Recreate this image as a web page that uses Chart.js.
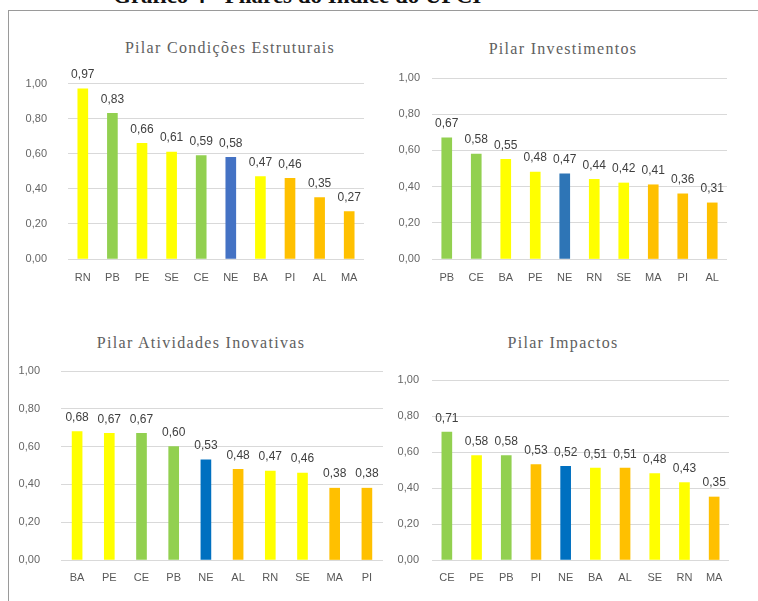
<!DOCTYPE html>
<html lang="pt-BR">
<head>
<meta charset="utf-8">
<title>Pilares do Índice</title>
<script src="https://cdn.jsdelivr.net/npm/chart.js@4.4.1/dist/chart.umd.min.js"></script>
<style>
  html, body { margin: 0; padding: 0; background: #fff; }
  body { width: 758px; height: 601px; position: relative; overflow: hidden; }
  .frame { position: absolute; left: 8px; top: 10px; width: 760px; height: 600px;
           border-left: 1px solid #9a9a9a; border-top: 1px solid #9a9a9a; }
  .heading { position: absolute; left: 113px; top: -17px; white-space: nowrap;
             font: bold 23px "Liberation Serif", serif; color: #111; }
  .ptitle { position: absolute; white-space: nowrap; transform: translate(-50%, -50%);
            font: 16px "Liberation Serif", serif; letter-spacing: 1.3px; color: #606060; }
  .panel { position: absolute; }
</style>
</head>
<body>
<div class="heading">Gráfico 4 - Pilares do Índice do UFCI</div>
<div class="frame"></div>

<div class="ptitle" style="left:230px; top:48px">Pilar Condições Estruturais</div>
<div class="ptitle" style="left:563px; top:49px">Pilar Investimentos</div>
<div class="ptitle" style="left:201px; top:343px">Pilar Atividades Inovativas</div>
<div class="ptitle" style="left:563px; top:343px">Pilar Impactos</div>

<div class="panel" style="left:10px; top:56px; width:370px; height:244px"><canvas id="cEstruturais"></canvas></div>
<div class="panel" style="left:380px; top:56px; width:378px; height:244px"><canvas id="cInvestimentos"></canvas></div>
<div class="panel" style="left:10px; top:340px; width:375px; height:260px"><canvas id="cAtividades"></canvas></div>
<div class="panel" style="left:385px; top:340px; width:373px; height:260px"><canvas id="cImpactos"></canvas></div>

<script>
// Pilar Condições Estruturais
const estadosEstruturais = ['RN', 'PB', 'PE', 'SE', 'CE', 'NE', 'BA', 'PI', 'AL', 'MA'];
const valoresEstruturais = [0.97, 0.83, 0.66, 0.61, 0.59, 0.58, 0.47, 0.46, 0.35, 0.27];

// Pilar Investimentos
const estadosInvestimentos = ['PB', 'CE', 'BA', 'PE', 'NE', 'RN', 'SE', 'MA', 'PI', 'AL'];
const valoresInvestimentos = [0.67, 0.58, 0.55, 0.48, 0.47, 0.44, 0.42, 0.41, 0.36, 0.31];

// Pilar Atividades Inovativas
const estadosAtividades = ['BA', 'PE', 'CE', 'PB', 'NE', 'AL', 'RN', 'SE', 'MA', 'PI'];
const valoresAtividades = [0.68, 0.67, 0.67, 0.60, 0.53, 0.48, 0.47, 0.46, 0.38, 0.38];

// Pilar Impactos
const estadosImpactos = ['CE', 'PE', 'PB', 'PI', 'NE', 'BA', 'AL', 'SE', 'RN', 'MA'];
const valoresImpactos = [0.71, 0.58, 0.58, 0.53, 0.52, 0.51, 0.51, 0.48, 0.43, 0.35];

// Eixo Y comum
const ticksY = [0, 0.2, 0.4, 0.6, 0.8, 1.0];

// Cores por grupo de estados
const VERDE = '#92D050', AMARELO = '#FFFF00', LARANJA = '#FFC000';
const corEstado = { CE: VERDE, PB: VERDE, RN: AMARELO, PE: AMARELO, SE: AMARELO, BA: AMARELO,
                    PI: LARANJA, AL: LARANJA, MA: LARANJA };

const fmt = v => v.toFixed(2).replace('.', ',');

// Rótulos de valor acima das barras
const rotulosValor = {
  id: 'rotulosValor',
  afterDatasetsDraw(chart) {
    const ctx = chart.ctx;
    const ds = chart.data.datasets[0];
    const meta = chart.getDatasetMeta(0);
    ctx.save();
    ctx.font = '12px "Liberation Sans", Arial, sans-serif';
    ctx.fillStyle = '#404040';
    ctx.textAlign = 'center';
    ctx.textBaseline = 'middle';
    meta.data.forEach((bar, i) => {
      ctx.fillText(fmt(ds.data[i]), bar.x, bar.y - 14);
    });
    ctx.restore();
  }
};

function painel(id, estados, valores, cfg) {
  new Chart(document.getElementById(id), {
    type: 'bar',
    data: {
      labels: estados,
      datasets: [{
        data: valores,
        backgroundColor: estados.map(e => e === 'NE' ? cfg.corNE : corEstado[e]),
        barThickness: 10,
        borderWidth: 0
      }]
    },
    options: {
      responsive: true,
      maintainAspectRatio: false,
      animation: false,
      devicePixelRatio: 1,
      layout: { padding: { top: cfg.top, right: cfg.right, left: 0, bottom: 0 } },
      plugins: { legend: { display: false }, tooltip: { enabled: false }, title: { display: false } },
      scales: {
        x: {
          grid: { display: false, drawTicks: false },
          border: { display: false },
          ticks: { padding: cfg.xPad, color: '#595959',
                   font: { family: '"Liberation Sans", Arial, sans-serif', size: 11 } },
          afterFit(scale) { scale.height = cfg.xHeight; }
        },
        y: {
          min: 0, max: 1,
          afterBuildTicks(scale) { scale.ticks = ticksY.map(v => ({ value: v })); },
          grid: { color: '#d9d9d9', lineWidth: 1, drawTicks: false },
          border: { display: false },
          ticks: { padding: cfg.yPad, color: '#666666', callback: v => fmt(v),
                   font: { family: '"Liberation Sans", Arial, sans-serif', size: 11 } },
          afterFit(scale) { scale.width = cfg.yWidth; }
        }
      }
    },
    plugins: [rotulosValor]
  });
}

painel('cEstruturais', estadosEstruturais, valoresEstruturais,
       { corNE: '#4472C4', top: 22, right: 16, yWidth: 58, yPad: 21, xHeight: 41, xPad: 12 });
painel('cInvestimentos', estadosInvestimentos, valoresInvestimentos,
       { corNE: '#2E75B6', top: 22, right: 31, yWidth: 52, yPad: 12, xHeight: 41, xPad: 12 });
painel('cAtividades', estadosAtividades, valoresAtividades,
       { corNE: '#0070C0', top: 31, right: 2, yWidth: 51, yPad: 21, xHeight: 40, xPad: 11 });
painel('cImpactos', estadosImpactos, valoresImpactos,
       { corNE: '#0070C0', top: 40, right: 29, yWidth: 47, yPad: 13, xHeight: 40, xPad: 11 });
</script>
</body>
</html>
